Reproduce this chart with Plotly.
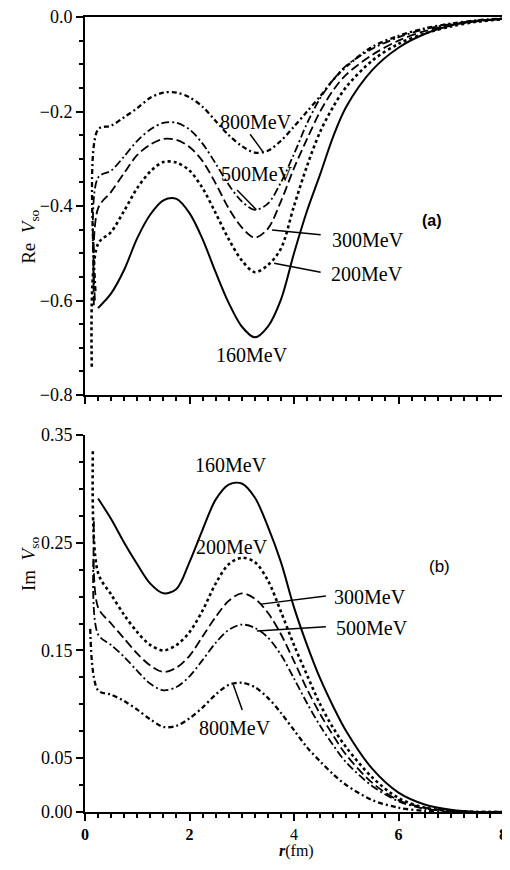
import plotly.graph_objects as go
from plotly.subplots import make_subplots

# ---------------- data ----------------
R = [0.25, 0.5, 0.75, 1.0, 1.25, 1.5, 1.75, 2.0, 2.25, 2.5, 2.75, 3.0, 3.25, 3.5,
     3.75, 4.0, 4.25, 4.5, 4.75, 5.0, 5.5, 6.0, 6.5, 7.0, 7.5, 8.0]

energies = ["160MeV", "200MeV", "300MeV", "500MeV", "800MeV"]

re_160 = [-0.616, -0.585, -0.535, -0.468, -0.418, -0.388, -0.385, -0.415, -0.47, -0.54,
          -0.605, -0.655, -0.678, -0.655, -0.598, -0.50, -0.41, -0.333, -0.253, -0.19,
          -0.112, -0.065, -0.036, -0.018, -0.008, -0.004]
re_200 = [-0.48, -0.455, -0.41, -0.362, -0.327, -0.307, -0.308, -0.325, -0.362, -0.415,
          -0.47, -0.515, -0.54, -0.525, -0.49, -0.40, -0.315, -0.243, -0.19, -0.148,
          -0.092, -0.057, -0.035, -0.02, -0.01, -0.005]
re_300 = [-0.405, -0.37, -0.33, -0.292, -0.27, -0.258, -0.26, -0.275, -0.305, -0.352,
          -0.405, -0.445, -0.467, -0.448, -0.39, -0.32, -0.258, -0.2, -0.155, -0.122,
          -0.08, -0.05, -0.03, -0.017, -0.009, -0.004]
re_500 = [-0.34, -0.325, -0.295, -0.262, -0.238, -0.224, -0.224, -0.238, -0.268, -0.31,
          -0.355, -0.39, -0.408, -0.395, -0.35, -0.29, -0.225, -0.172, -0.133, -0.103,
          -0.067, -0.043, -0.026, -0.015, -0.008, -0.004]
re_800 = [-0.238, -0.23, -0.212, -0.193, -0.171, -0.16, -0.16, -0.17, -0.19, -0.22,
          -0.25, -0.273, -0.287, -0.283, -0.262, -0.232, -0.2, -0.168, -0.133, -0.105,
          -0.063, -0.04, -0.024, -0.014, -0.007, -0.003]

im_160 = [0.291, 0.272, 0.25, 0.23, 0.212, 0.203, 0.207, 0.232, 0.262, 0.29,
          0.304, 0.305, 0.292, 0.265, 0.232, 0.19, 0.155, 0.124, 0.098, 0.075,
          0.04, 0.018, 0.007, 0.002, 0.0, 0.0]
im_200 = [0.222, 0.202, 0.183, 0.167, 0.155, 0.15, 0.155, 0.167, 0.187, 0.212,
          0.23, 0.236, 0.232, 0.215, 0.186, 0.155, 0.127, 0.1, 0.078, 0.06,
          0.032, 0.013, 0.004, 0.001, 0.0, 0.0]
im_300 = [0.19, 0.175, 0.161, 0.147, 0.136, 0.13, 0.134, 0.145, 0.163, 0.181,
          0.196, 0.203, 0.198, 0.185, 0.165, 0.14, 0.114, 0.091, 0.071, 0.053,
          0.027, 0.011, 0.004, 0.001, 0.0, 0.0]
im_500 = [0.165, 0.155, 0.144, 0.131, 0.119, 0.113, 0.116, 0.126, 0.141, 0.157,
          0.169, 0.174, 0.171, 0.162, 0.146, 0.124, 0.101, 0.08, 0.062, 0.046,
          0.024, 0.01, 0.003, 0.001, 0.0, 0.0]
im_800 = [0.113, 0.109, 0.103, 0.095, 0.086, 0.079, 0.08, 0.087, 0.097, 0.109,
          0.118, 0.12, 0.116, 0.106, 0.092, 0.076, 0.06, 0.047, 0.035, 0.025,
          0.011, 0.004, 0.001, 0.0, 0.0, 0.0]

# steep near-origin parts (r, value) for 200, 300, 500, 800 MeV
spike_r_re = [0.13, 0.17, 0.19, 0.2]
spike_v_re = [-0.74, -0.61, -0.60, -0.58]
spike_r_im = [0.15, 0.17, 0.16, 0.1]
spike_v_im = [0.335, 0.27, 0.235, 0.17]

re_ticks = [-0.8, -0.6, -0.4, -0.2, 0.0]
re_ticktext = ["\u22120.8", "\u22120.6", "\u22120.4", "\u22120.2", "0.0"]
im_ticks = [0.0, 0.05, 0.15, 0.25, 0.35]
im_ticktext = ["0.00", "0.05", "0.15", "0.25", "0.35"]
r_ticks = [0, 2, 4, 6, 8]
r_ticktext = ["<b>0</b>", "<b>2</b>", "4", "<b>6</b>", "<b>8</b>"]

# ---------------- styling ----------------
styles = {
    "160MeV": dict(dash="solid", width=2.0),
    "200MeV": dict(dash="dot", width=2.6),
    "300MeV": dict(dash="9px,4px", width=1.8),
    "500MeV": dict(dash="8px,3px,2px,3px", width=1.8),
    "800MeV": dict(dash="5px,3px,2px,3px", width=2.3),
}
SERIF = "Liberation Serif"

fig = make_subplots(rows=2, cols=1, vertical_spacing=0.0503)

re_series = [re_160, re_200, re_300, re_500, re_800]
im_series = [im_160, im_200, im_300, im_500, im_800]

for i, name in enumerate(energies):
    st = styles[name]
    xr, yr = list(R), list(re_series[i])
    xi, yi = list(R), list(im_series[i])
    if i > 0:
        xr = [spike_r_re[i - 1]] + xr
        yr = [spike_v_re[i - 1]] + yr
        xi = [spike_r_im[i - 1]] + xi
        yi = [spike_v_im[i - 1]] + yi
    fig.add_trace(go.Scatter(x=xr, y=yr, mode="lines", name=name,
                             line=dict(color="black", width=st["width"], dash=st["dash"],
                                       shape="spline", smoothing=0.9),
                             showlegend=False), row=1, col=1)
    fig.add_trace(go.Scatter(x=xi, y=yi, mode="lines", name=name,
                             line=dict(color="black", width=st["width"], dash=st["dash"],
                                       shape="spline", smoothing=0.9),
                             showlegend=False), row=2, col=1)

# ---------------- axes ----------------
xcommon = dict(range=[0, 8], showgrid=False, zeroline=False, showline=True,
               linecolor="black", linewidth=2, ticks="outside", tickcolor="black",
               tickwidth=2, ticklen=7, tickvals=r_ticks, automargin=False,
               ticklabeloverflow="allow",
               minor=dict(dtick=0.25, tick0=0, ticks="outside", ticklen=4,
                          tickcolor="black", tickwidth=1.5))
fig.update_xaxes(**xcommon, showticklabels=False, mirror=True, row=1, col=1)
fig.update_xaxes(**xcommon, ticktext=r_ticktext,
                 tickfont=dict(family=SERIF, size=16, color="black"), row=2, col=1)

ycommon = dict(showgrid=False, zeroline=False, showline=True, linecolor="black",
               linewidth=2, ticks="outside", tickcolor="black", tickwidth=2, ticklen=7,
               automargin=False, ticklabeloverflow="allow",
               tickfont=dict(family=SERIF, size=18, color="black"))
fig.update_yaxes(**ycommon, range=[-0.8, 0], tickvals=re_ticks, ticktext=re_ticktext,
                 minor=dict(dtick=0.05, tick0=0, ticks="outside", ticklen=4,
                            tickcolor="black", tickwidth=1.5), row=1, col=1)
fig.update_yaxes(**ycommon, range=[0, 0.35], tickvals=im_ticks, ticktext=im_ticktext,
                 minor=dict(dtick=0.025, tick0=0, ticks="outside", ticklen=4,
                            tickcolor="black", tickwidth=1.5), row=2, col=1)

# ---------------- labels ----------------
lab_font = dict(family=SERIF, size=20, color="black")
re_labels = [("800MeV", 3.28, -0.222), ("500MeV", 3.30, -0.332), ("300MeV", 5.41, -0.472),
             ("200MeV", 5.39, -0.544), ("160MeV", 3.2, -0.715)]
im_labels = [("160MeV", 2.8, 0.322), ("200MeV", 2.82, 0.246), ("300MeV", 5.45, 0.1996),
             ("500MeV", 5.5, 0.171), ("800MeV", 2.88, 0.078)]
re_leaders = [(3.16, -0.248, 3.41, -0.286), (2.91, -0.366, 3.28, -0.408),
              (3.58, -0.451, 4.51, -0.461), (3.62, -0.521, 4.51, -0.540)]
im_leaders = [(3.37, 0.193, 4.61, 0.2006), (3.29, 0.168, 4.61, 0.172),
              (2.84, 0.118, 3.01, 0.0947)]

for t, x, y in re_labels:
    fig.add_annotation(x=x, y=y, xref="x", yref="y", text=t, showarrow=False, font=lab_font)
for t, x, y in im_labels:
    fig.add_annotation(x=x, y=y, xref="x2", yref="y2", text=t, showarrow=False, font=lab_font)
for x0, y0, x1, y1 in re_leaders:
    fig.add_shape(type="line", x0=x0, y0=y0, x1=x1, y1=y1, xref="x", yref="y",
                  line=dict(color="black", width=1.5))
for x0, y0, x1, y1 in im_leaders:
    fig.add_shape(type="line", x0=x0, y0=y0, x1=x1, y1=y1, xref="x2", yref="y2",
                  line=dict(color="black", width=1.5))

fig.add_annotation(x=6.65, y=-0.43, xref="x", yref="y", text="<b>(a)</b>", showarrow=False,
                   font=dict(family="Liberation Sans", size=16, color="black"))
fig.add_annotation(x=6.78, y=0.2275, xref="x2", yref="y2", text="(b)", showarrow=False,
                   font=dict(family="Liberation Sans", size=17, color="black"))

fig.add_annotation(x=-0.165, y=0.76, xref="paper", yref="paper", textangle=-90,
                   text="Re  <i>V</i><sub>so</sub>", showarrow=False,
                   font=dict(family=SERIF, size=19, color="black"))
fig.add_annotation(x=-0.165, y=0.2755, xref="paper", yref="paper", textangle=-90,
                   text="Im  <i>V</i><sub>so</sub>", showarrow=False,
                   font=dict(family=SERIF, size=19, color="black"))
fig.add_annotation(x=0.507, y=-0.063, xref="paper", yref="paper",
                   text="<b><i>r</i></b>(fm)", showarrow=False,
                   font=dict(family=SERIF, size=16, color="black"))

# page body adds an 8px offset, so the figure is 8px smaller than the window
fig.update_layout(width=502, height=862, margin=dict(l=77, r=7, t=9, b=58),
                  paper_bgcolor="white", plot_bgcolor="white")
fig.layout.yaxis.domain = [0.5245, 1.0]
fig.layout.yaxis2.domain = [0.0, 0.4742]

fig.write_html("out.html")
